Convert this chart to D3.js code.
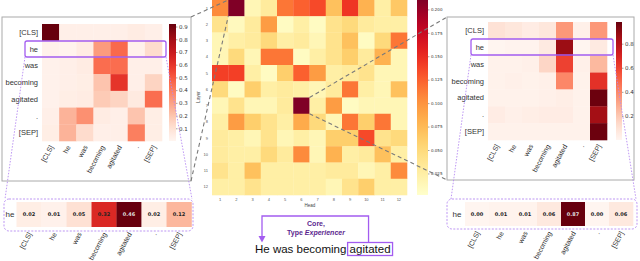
<!DOCTYPE html>
<html>
<head>
<meta charset="utf-8">
<script src="https://cdn.jsdelivr.net/npm/d3@7"></script>
<style>
  body { margin: 0; background: #fff; }
  text { font-family: "Liberation Sans", Arial, sans-serif; }
</style>
</head>
<body>
<svg id="fig" width="640" height="261"></svg>
<script>
// tokens of the sentence
var tokens = ["[CLS]", "he", "was", "becoming", "agitated", ".", "[SEP]"];

// attention of the zoomed head on the left (rows = query token)
var leftAttn = [
  [0.92, 0.03, 0.03, 0.03, 0.03, 0.05, 0.03],
  [0.02, 0.01, 0.05, 0.32, 0.46, 0.02, 0.12],
  [0.02, 0.03, 0.05, 0.45, 0.45, 0.03, 0.03],
  [0.02, 0.03, 0.04, 0.20, 0.60, 0.03, 0.15],
  [0.02, 0.04, 0.05, 0.18, 0.15, 0.06, 0.45],
  [0.03, 0.25, 0.35, 0.05, 0.03, 0.20, 0.04],
  [0.04, 0.25, 0.12, 0.03, 0.03, 0.40, 0.04]
];
// attention of the zoomed head on the right
var rightAttn = [
  [0.10, 0.08, 0.05, 0.08, 0.35, 0.03, 0.35],
  [0.00, 0.01, 0.01, 0.06, 0.87, 0.00, 0.06],
  [0.02, 0.02, 0.03, 0.15, 0.60, 0.03, 0.25],
  [0.02, 0.03, 0.02, 0.03, 0.40, 0.02, 0.65],
  [0.02, 0.02, 0.02, 0.03, 0.04, 0.02, 0.97],
  [0.05, 0.03, 0.04, 0.05, 0.05, 0.02, 0.85],
  [0.02, 0.02, 0.02, 0.02, 0.02, 0.02, 0.97]
];
// the "he" rows printed with values
var leftRow = [0.02, 0.01, 0.05, 0.32, 0.46, 0.02, 0.12];
var rightRow = [0.00, 0.01, 0.01, 0.06, 0.87, 0.00, 0.06];

// layer x head score grid (rows top to bottom = layer 1..12)
var layers = ["1", "2", "3", "4", "5", "6", "7", "8", "9", "10", "11", "12"];
var heads = ["1", "2", "3", "4", "5", "6", "7", "8", "9", "10", "11", "12"];
var headScores = [
  [0.105, 0.21, 0.015, 0.03, 0.115, 0.125, 0.135, 0.07, 0.145, 0.08, 0.025, 0.065],
  [0.04, 0.01, 0.03, 0.095, 0.008, 0.025, 0.008, 0.04, 0.05, 0.03, 0.025, 0.025],
  [0.015, 0.025, 0.03, 0.05, 0.025, 0.03, 0.015, 0.04, 0.07, 0.008, 0.05, 0.115],
  [0.015, 0.05, 0.015, 0.115, 0.115, 0.008, 0.025, 0.04, 0.06, 0.03, 0.08, 0.015],
  [0.14, 0.14, 0.025, 0.008, 0.06, 0.125, 0.095, 0.025, 0.03, 0.04, 0.015, 0.015],
  [0.05, 0.008, 0.06, 0.025, 0.03, 0.025, 0.015, 0.03, 0.115, 0.025, 0.015, 0.07],
  [0.015, 0.04, 0.015, 0.015, 0.03, 0.21, 0.025, 0.095, 0.008, 0.015, 0.015, 0.015],
  [0.025, 0.095, 0.06, 0.04, 0.025, 0.085, 0.05, 0.015, 0.115, 0.06, 0.115, 0.015],
  [0.03, 0.025, 0.015, 0.04, 0.015, 0.025, 0.015, 0.06, 0.06, 0.135, 0.04, 0.05],
  [0.03, 0.025, 0.025, 0.05, 0.03, 0.105, 0.015, 0.08, 0.025, 0.03, 0.07, 0.025],
  [0.04, 0.025, 0.07, 0.025, 0.025, 0.025, 0.025, 0.03, 0.03, 0.015, 0.025, 0.105],
  [0.025, 0.025, 0.04, 0.025, 0.025, 0.025, 0.025, 0.015, 0.04, 0.06, 0.025, 0.025]
];

var leftTicks = [0.1, 0.2, 0.3, 0.4, 0.5, 0.6, 0.7, 0.8, 0.9];
var rightTicks = [0.2, 0.4, 0.6, 0.8];
var centerTicks = [0.025, 0.05, 0.075, 0.1, 0.125, 0.15, 0.175, 0.2];

var svg = d3.select("#fig");
var purple = "#a35cf0";
var dotPurple = "#b68af2";

// ---------- helpers ----------
function heatmap(g, matrix, xr, yr, color) {
  var n = matrix[0].length;
  var x = d3.scaleBand().domain(d3.range(n)).range(xr);
  var y = d3.scaleBand().domain(d3.range(matrix.length)).range(yr);
  matrix.forEach(function (row, i) {
    g.selectAll(null).data(row).enter().append("rect")
      .attr("x", function (d, j) { return x(j); })
      .attr("y", y(i))
      .attr("width", x.bandwidth() + 0.3)
      .attr("height", y.bandwidth() + 0.3)
      .attr("fill", function (d) { return color(d); });
  });
  return { x: x, y: y };
}

function colorbar(g, id, x0, w, yr, color, ticks, fmt, fs) {
  var dom = color.domain();
  var grad = svg.append("defs").append("linearGradient")
    .attr("id", id).attr("x1", 0).attr("y1", 1).attr("x2", 0).attr("y2", 0);
  d3.range(0, 1.0001, 0.05).forEach(function (t) {
    grad.append("stop").attr("offset", t)
      .attr("stop-color", color(dom[0] + t * (dom[1] - dom[0])));
  });
  g.append("rect").attr("x", x0).attr("y", yr[1]).attr("width", w)
    .attr("height", yr[0] - yr[1]).attr("fill", "url(#" + id + ")");
  var s = d3.scaleLinear().domain(dom).range(yr);
  var ax = g.append("g").attr("transform", "translate(" + (x0 + w) + ",0)")
    .call(d3.axisRight(s).tickValues(ticks).tickSize(1.5).tickPadding(1.5).tickFormat(fmt));
  ax.select(".domain").remove();
  ax.selectAll("line").attr("stroke", "#444").attr("stroke-width", 0.5);
  ax.selectAll("text").attr("font-size", fs).attr("fill", "#333")
    .style("font-family", "'DejaVu Sans', sans-serif");
}

function rotatedLabels(g, x, y0, fs) {
  g.selectAll(null).data(tokens).enter().append("text")
    .attr("transform", function (d, i) {
      return "translate(" + (x(i) + x.bandwidth() / 2 + 3) + "," + y0 + ") rotate(-62)";
    })
    .attr("text-anchor", "end")
    .attr("font-size", fs)
    .attr("fill", "#333")
    .text(function (d) { return d; });
}

function rowLabels(g, y, x0, fs) {
  g.selectAll(null).data(tokens).enter().append("text")
    .attr("x", x0)
    .attr("y", function (d, i) { return y(i) + y.bandwidth() / 2; })
    .attr("dy", "0.35em")
    .attr("text-anchor", "end")
    .attr("font-size", fs)
    .attr("fill", "#333")
    .text(function (d) { return d; });
}

function valueRow(g, values, xr, yr, labelX) {
  var max = d3.max(values);
  var color = d3.scaleSequential(d3.interpolateReds).domain([0, max]);
  var x = d3.scaleBand().domain(d3.range(values.length)).range(xr);
  g.selectAll(null).data(values).enter().append("rect")
    .attr("x", function (d, i) { return x(i); })
    .attr("y", yr[0])
    .attr("width", x.bandwidth() + 0.3)
    .attr("height", yr[1] - yr[0])
    .attr("fill", function (d) { return color(d); });
  g.selectAll(null).data(values).enter().append("text")
    .attr("x", function (d, i) { return x(i) + x.bandwidth() / 2; })
    .attr("y", (yr[0] + yr[1]) / 2)
    .attr("dy", "0.35em")
    .attr("text-anchor", "middle")
    .attr("font-size", 5)
    .attr("font-weight", "bold")
    .attr("fill", function (d) { return d / max > 0.85 ? "#ddd" : "#222"; })
    .style("font-family", "'DejaVu Sans', sans-serif")
    .text(function (d) { return d.toFixed(2); });
  g.append("text").attr("x", labelX).attr("y", (yr[0] + yr[1]) / 2)
    .attr("dy", "0.35em").attr("text-anchor", "middle")
    .attr("font-size", 8).attr("fill", "#333").text("he");
  return x;
}

function dotted(x1, y1, x2, y2) {
  svg.append("line").attr("x1", x1).attr("y1", y1).attr("x2", x2).attr("y2", y2)
    .attr("stroke", dotPurple).attr("stroke-width", 0.9).attr("stroke-dasharray", "1.5,1.5");
}

function grayDash(x1, y1, x2, y2) {
  svg.append("line").attr("x1", x1).attr("y1", y1).attr("x2", x2).attr("y2", y2)
    .attr("stroke", "#7a7a7a").attr("stroke-width", 1.1).attr("stroke-dasharray", "4,3");
}

// ---------- left panel ----------
var left = svg.append("g");
left.append("rect").attr("x", 2).attr("y", 17).attr("width", 189).attr("height", 164)
  .attr("fill", "none").attr("stroke", "#aaa").attr("stroke-width", 1);
var lScale = d3.scaleSequential(d3.interpolateReds).domain([0, 0.92]);
var lh = heatmap(left, leftAttn, [42, 162], [24, 141], lScale);
rowLabels(left, lh.y, 38, 7.5);
rotatedLabels(left, lh.x, 147, 7);
colorbar(left, "gl", 169, 7, [141, 24], lScale, leftTicks, d3.format(".1f"), 5.5);
left.append("rect").attr("x", 25).attr("y", 41).attr("width", 141).attr("height", 16)
  .attr("rx", 2).attr("fill", "none").attr("stroke", purple).attr("stroke-width", 1.3);

// left value row
var lb = svg.append("g");
lb.append("rect").attr("x", 4).attr("y", 199).attr("width", 189).attr("height", 32).attr("rx", 5)
  .attr("fill", "none").attr("stroke", dotPurple).attr("stroke-width", 0.9).attr("stroke-dasharray", "2,1.5");
var lbx = valueRow(lb, leftRow, [16.5, 191.5], [202, 227], 10);
rotatedLabels(lb, lbx, 234, 7);
dotted(25, 57, 5, 199);
dotted(166, 57, 192, 199);

// ---------- right panel ----------
var right = svg.append("g");
right.append("rect").attr("x", 447).attr("y", 17).attr("width", 187).attr("height", 163)
  .attr("fill", "none").attr("stroke", "#aaa").attr("stroke-width", 1);
var rScale = d3.scaleSequential(d3.interpolateReds).domain([0, 0.98]);
var rh = heatmap(right, rightAttn, [488, 607], [22, 140], rScale);
rowLabels(right, rh.y, 484, 7.5);
rotatedLabels(right, rh.x, 146, 7);
colorbar(right, "gr", 616, 6, [140, 22], rScale, rightTicks, d3.format(".1f"), 5.5);
right.append("rect").attr("x", 471).attr("y", 39).attr("width", 142).attr("height", 16)
  .attr("rx", 2).attr("fill", "none").attr("stroke", purple).attr("stroke-width", 1.3);

var rb = svg.append("g");
rb.append("rect").attr("x", 447).attr("y", 199).attr("width", 190).attr("height", 30).attr("rx", 5)
  .attr("fill", "none").attr("stroke", dotPurple).attr("stroke-width", 0.9).attr("stroke-dasharray", "2,1.5");
var rbx = valueRow(rb, rightRow, [465, 633], [202, 226], 457);
rotatedLabels(rb, rbx, 233, 7);
dotted(471, 55, 451, 199);
dotted(613, 55, 636, 199);

// ---------- center grid ----------
var center = svg.append("g");
var cScale = d3.scaleSequential(d3.interpolateYlOrRd).domain([0.002, 0.21]);
var ch = heatmap(center, headScores, [212, 407], [0, 195], cScale);
center.selectAll(null).data(layers).enter().append("text")
  .attr("x", 208).attr("y", function (d, i) { return ch.y(i) + ch.y.bandwidth() / 2; })
  .attr("dy", "0.35em").attr("text-anchor", "end").attr("font-size", 4).attr("fill", "#555")
  .text(function (d) { return d; });
center.selectAll(null).data(heads).enter().append("text")
  .attr("x", function (d, i) { return ch.x(i) + ch.x.bandwidth() / 2; }).attr("y", 201)
  .attr("text-anchor", "middle").attr("font-size", 4).attr("fill", "#555")
  .text(function (d) { return d; });
center.append("text").attr("x", 310).attr("y", 207).attr("text-anchor", "middle")
  .attr("font-size", 4.5).attr("fill", "#444").text("Head");
center.append("text").attr("transform", "translate(200,97) rotate(-90)").attr("text-anchor", "middle")
  .attr("font-size", 4.5).attr("fill", "#444").text("Layer");
colorbar(center, "gc", 417, 11, [195, 0], cScale, centerTicks, d3.format(".3f"), 4);

// connectors from the grid to the zoomed heads
grayDash(191, 17, ch.x(1), ch.y(0));
grayDash(191, 181, ch.x(1), ch.y(0) + ch.y.bandwidth());
grayDash(ch.x(5) + ch.x.bandwidth(), ch.y(6), 447, 17);
grayDash(ch.x(5) + ch.x.bandwidth(), ch.y(6) + ch.y.bandwidth(), 447, 180);

// ---------- sentence with the role bracket ----------
var sent = svg.append("text").attr("x", 255).attr("y", 253).attr("font-size", 11.5).attr("fill", "#111");
sent.append("tspan").text("He was becoming ");
var target = sent.append("tspan").text("agitated");
var pre = sent.node().getSubStringLength(0, 16);
var tw = sent.node().getSubStringLength(16, 8);
var bx = 255 + pre - 2;
svg.append("rect").attr("x", bx).attr("y", 242.5).attr("width", tw + 4).attr("height", 13)
  .attr("fill", "none").attr("stroke", purple).attr("stroke-width", 1.3);
svg.append("path").attr("d", "M262,237 V216 H" + (bx + tw + 4 - 24) + " V242.5")
  .attr("fill", "none").attr("stroke", purple).attr("stroke-width", 1.3);
svg.append("path").attr("d", "M258.5,236 L265.5,236 L262,242.5 Z").attr("fill", purple);

svg.append("text").attr("x", 316).attr("y", 226).attr("text-anchor", "middle")
  .attr("font-size", 7).attr("font-weight", "bold").attr("fill", "#5b1f8e").text("Core,");
var role = svg.append("text").attr("x", 316).attr("y", 234.5).attr("text-anchor", "middle")
  .attr("font-size", 7).attr("font-weight", "bold").attr("fill", "#5b1f8e");
role.append("tspan").text("Type ");
role.append("tspan").attr("font-style", "italic").text("Experiencer");
</script>
</body>
</html>
